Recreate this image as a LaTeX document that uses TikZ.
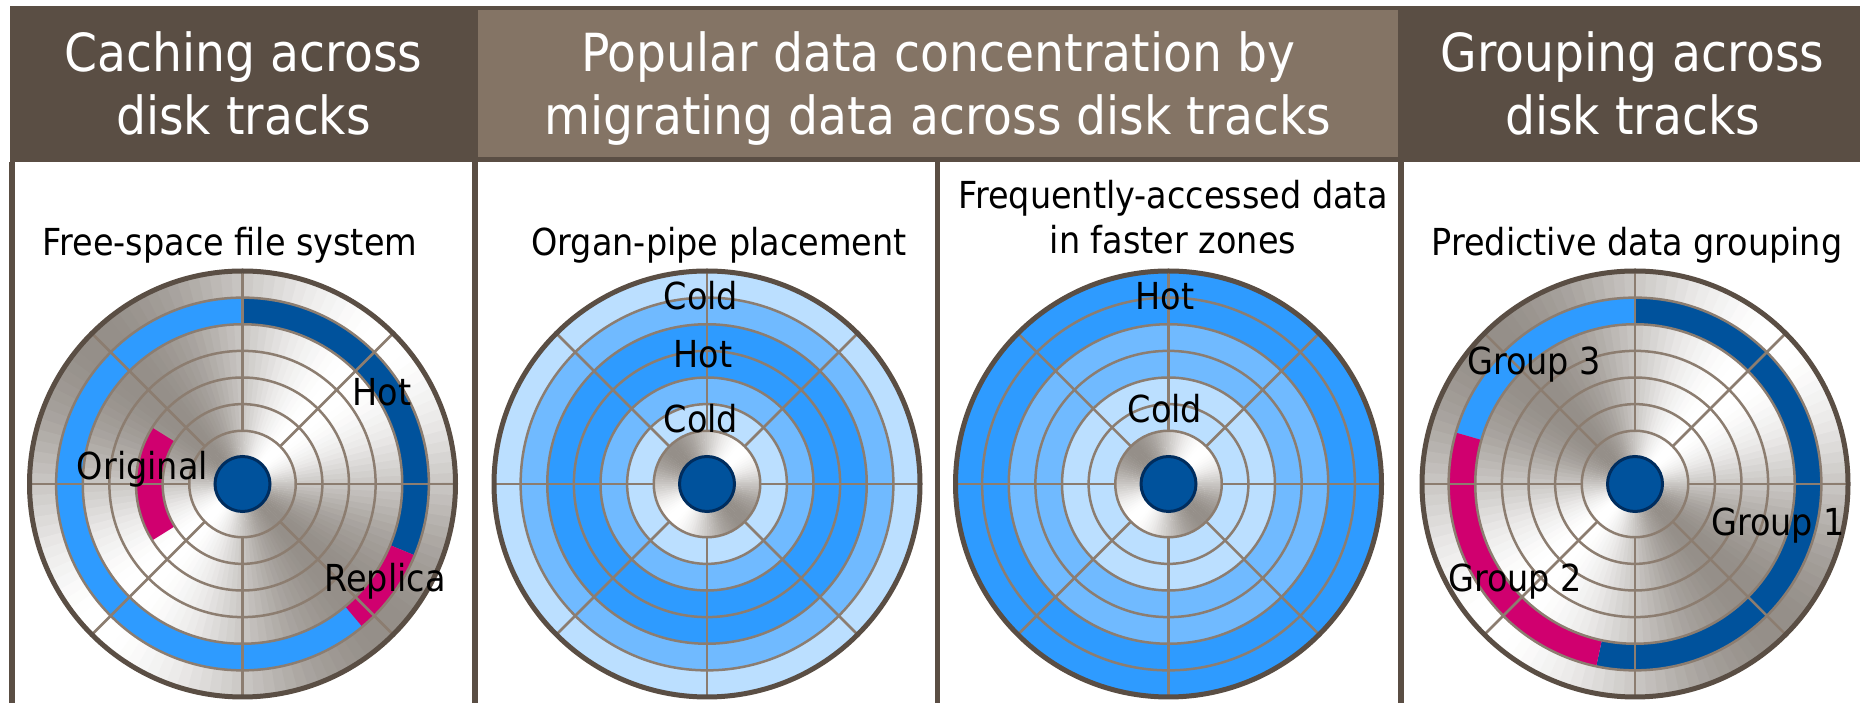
\documentclass[tikz,border=0pt]{standalone}
\usepackage{fontspec}
\newfontfamily\dvs{DejaVu Sans}[FakeStretch=0.9]

\definecolor{framec}{RGB}{90,78,68}
\definecolor{headlt}{RGB}{132,116,101}
\definecolor{ringc}{RGB}{140,125,112}
\definecolor{bluebr}{RGB}{46,155,255}
\definecolor{bluedk}{RGB}{0,82,156}
\definecolor{bluemid}{RGB}{112,186,255}
\definecolor{bluepale}{RGB}{187,223,255}
\definecolor{magent}{RGB}{208,0,111}
\definecolor{navy}{RGB}{0,45,94}
\definecolor{metal}{RGB}{148,142,136}

\tikzset{
  ringline/.style={draw=ringc, line width=2.5pt},
  rim/.style={draw=framec, line width=5pt},
  divider/.style={draw=framec, line width=5.5pt},
  hdr/.style={text=white, font=\dvs\fontsize{52.5}{60}\selectfont, inner sep=0pt, anchor=base},
  lbl/.style={text=black, font=\dvs\fontsize{37.2}{42}\selectfont, inner sep=0pt, anchor=base},
}

% brushed-metal platter: grey level follows the angle (light NE/SW, dark NW/SE)
\newcommand\platter{%
  \foreach \a in {0,3,...,357}{%
    \pgfmathtruncatemacro\t{50*(1-cos(2*(\a+1.5-45)))}%
    \fill[metal!\t!white] (0,0) -- (\a:213) arc[start angle=\a,end angle=\a+3.5,radius=213] -- cycle;
  }}

% annular sector: inner radius, outer radius, start angle, end angle, colour
\newcommand\trackband[5]{%
  \fill[#5] (#3:#2) arc[start angle=#3,end angle=#4,radius=#2]
    -- (#4:#1) arc[start angle=#4,end angle=#3,radius=#1] -- cycle;}

% track circles, spokes, rim and spindle
\newcommand\diskgrid{%
  \foreach \k [evaluate=\k as \rr using \k*26.625] in {2,...,7}
    \draw[ringline] (0,0) circle[radius=\rr];
  \foreach \a in {0,45,...,315}
    \draw[ringline] (\a:53.25) -- (\a:213);
  \draw[rim] (0,0) circle[radius=213];
  \draw[navy, line width=3pt, fill=bluedk] (0,0) circle[radius=27.5];
}

\begin{document}
\begin{tikzpicture}[x=1pt,y=1pt]
\useasboundingbox (0,0) rectangle (1860,703);
\clip (0,0) rectangle (1860,703);
\fill[white] (0,0) rectangle (1860,703);

% header band
\fill[framec] (9.5,541) rectangle (1860,697);
\fill[headlt] (478,546) rectangle (1398,693);

% panel dividers
\foreach \x in {12,475,937.5,1401}
  \draw[divider] (\x,0) -- (\x,541);

% header texts
\node[hdr] (h1a) at (243.5,631.5) {Caching across};
\node[hdr] (h1b) at (243.5,568.5) {disk tracks};
\node[hdr] (h2a) at (938,631.5) {Popular data concentration by};
\node[hdr] (h2b) at (938,568.5) {migrating data across disk tracks};
\node[hdr] (h3a) at (1632.5,631.5) {Grouping across};
\node[hdr] (h3b) at (1632.5,568.5) {disk tracks};

% panel titles
\node[lbl] (t1) at (230,447.5) {Free-space file system};
\node[lbl] (t2) at (719,447.5) {Organ-pipe placement};
\node[lbl] (t3a) at (1173,494.5) {Frequently-accessed data};
\node[lbl] (t3b) at (1173,449.7) {in faster zones};
\node[lbl] (t4) at (1637,447.5) {Predictive data grouping};

% disk 1: free-space file system
\begin{scope}[shift={(242.5,219)}]
  \platter
  \trackband{159.75}{186.375}{-22.5}{90}{bluedk}
  \trackband{159.75}{186.375}{90}{310}{bluebr}
  \trackband{159.75}{186.375}{310}{337.5}{magent}
  \trackband{79.875}{106.5}{148}{212}{magent}
  \diskgrid
\end{scope}
\node[lbl] (p1hot) at (382,297) {Hot};
\node[lbl] (p1orig) at (142.5,223) {Original};
\node[lbl] (p1rep) at (385,111) {Replica};

% disk 2: organ-pipe placement
\begin{scope}[shift={(707,219)}]
  \platter
  \trackband{186.375}{213}{0}{360}{bluepale}
  \trackband{159.75}{186.375}{0}{360}{bluemid}
  \trackband{106.5}{159.75}{0}{360}{bluebr}
  \trackband{79.875}{106.5}{0}{360}{bluemid}
  \trackband{53.25}{79.875}{0}{360}{bluepale}
  \diskgrid
\end{scope}
\node[lbl] (p2cold1) at (701,393.7) {Cold};
\node[lbl] (p2hot) at (703,335.4) {Hot};
\node[lbl] (p2cold2) at (701,270.4) {Cold};

% disk 3: frequently-accessed data outside
\begin{scope}[shift={(1168.5,219)}]
  \platter
  \trackband{159.75}{213}{0}{360}{bluebr}
  \trackband{106.5}{159.75}{0}{360}{bluemid}
  \trackband{53.25}{106.5}{0}{360}{bluepale}
  \diskgrid
\end{scope}
\node[lbl] (p3hot) at (1165,393) {Hot};
\node[lbl] (p3cold) at (1165,280.7) {Cold};

% disk 4: predictive grouping
\begin{scope}[shift={(1635,219)}]
  \platter
  \trackband{159.75}{186.375}{-102}{90}{bluedk}
  \trackband{159.75}{186.375}{90}{164}{bluebr}
  \trackband{159.75}{186.375}{164}{258}{magent}
  \diskgrid
\end{scope}
\node[lbl] (p4g3) at (1534,328.7) {Group 3};
\node[lbl] (p4g1) at (1778,167.3) {Group 1};
\node[lbl] (p4g2) at (1515,111.2) {Group 2};
\end{tikzpicture}
\end{document}
